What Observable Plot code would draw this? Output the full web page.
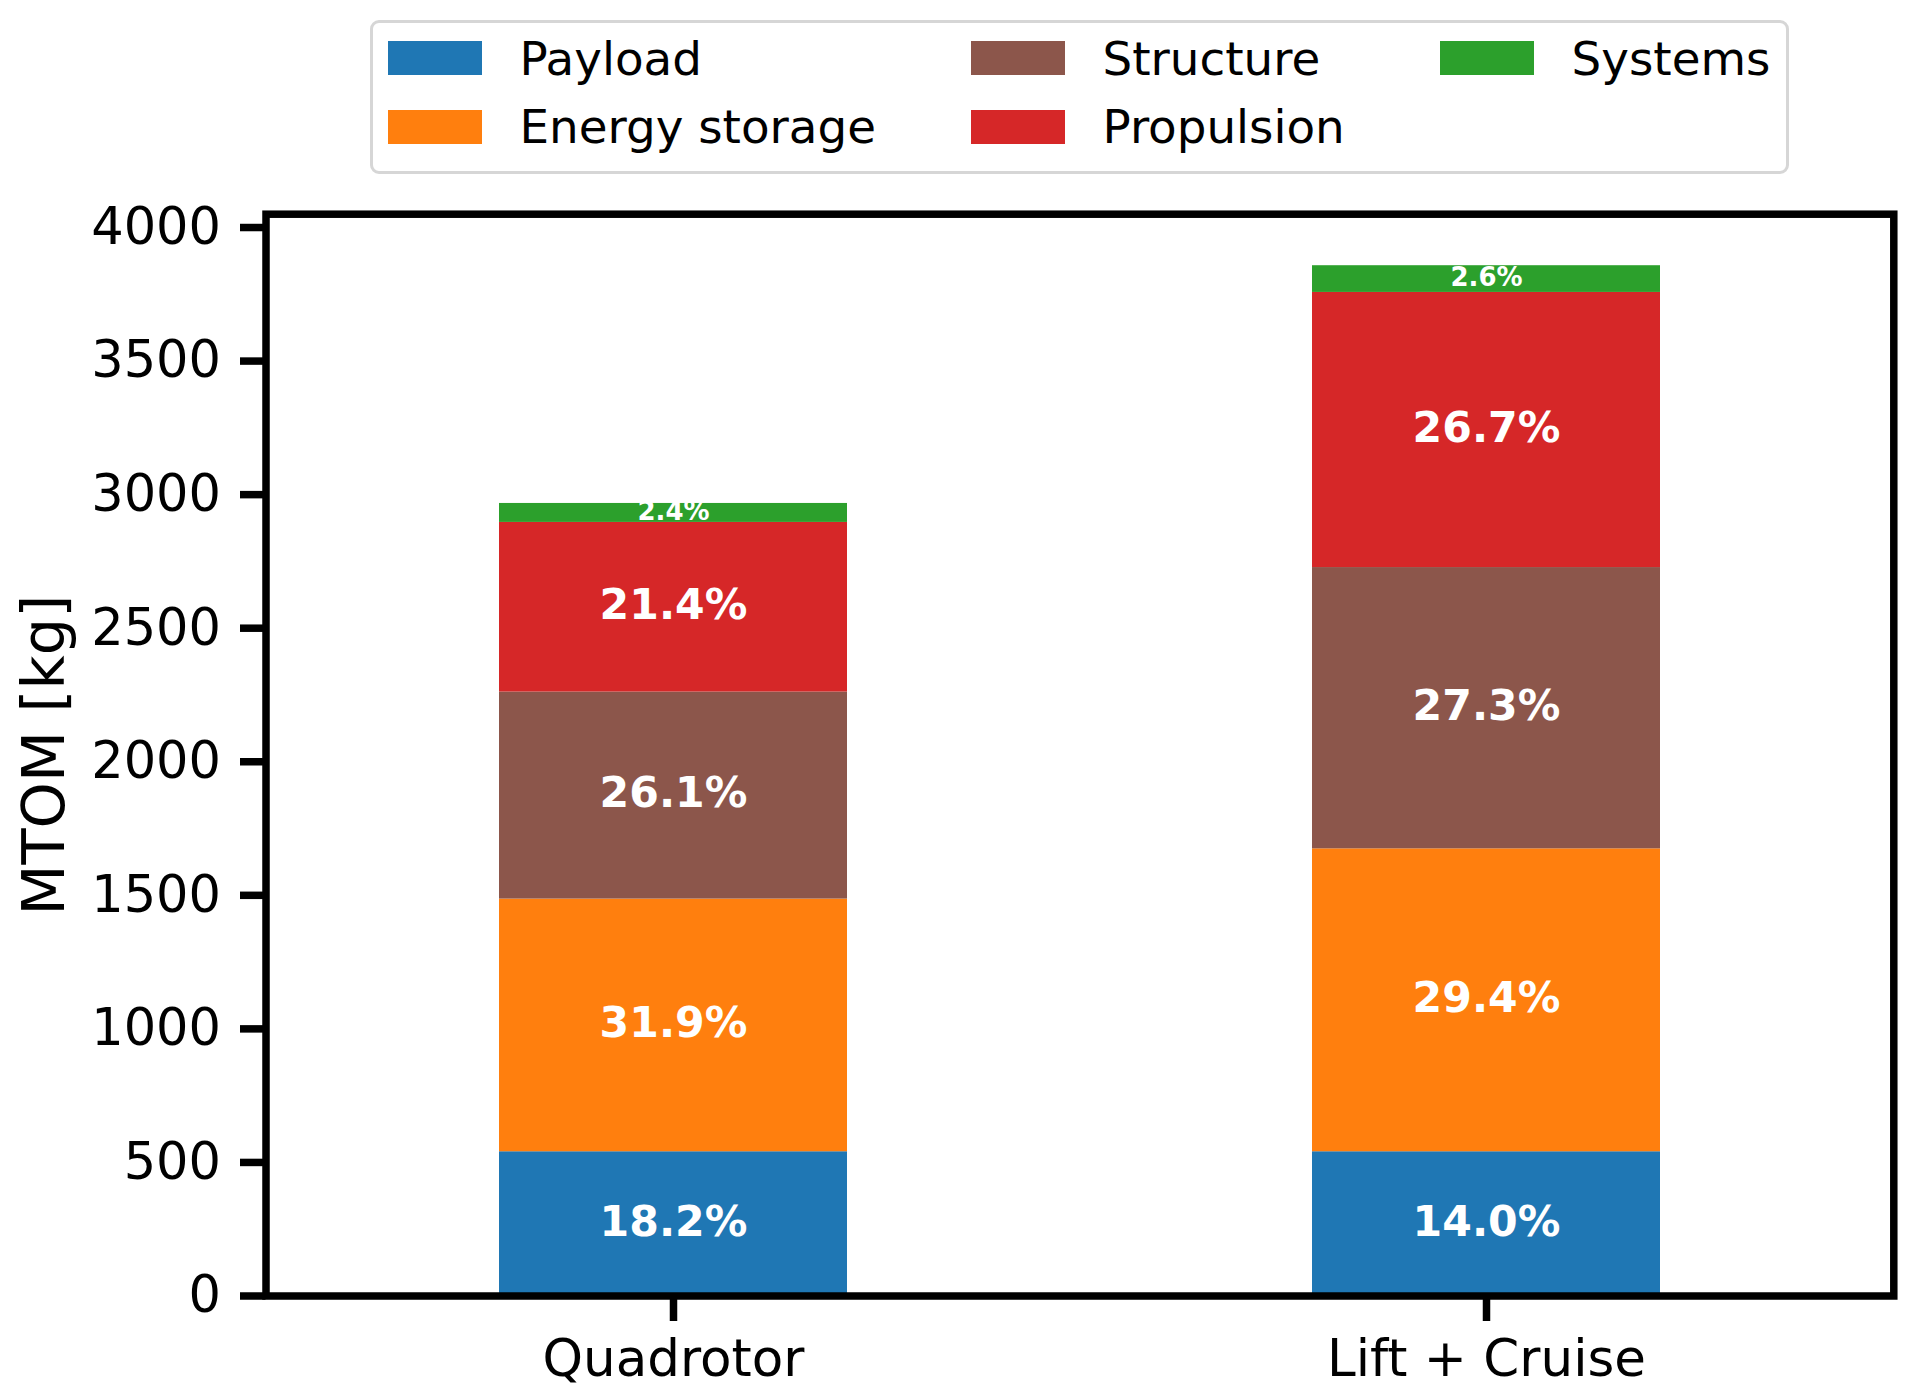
<!DOCTYPE html>
<html>
<head>
<meta charset="utf-8">
<script src="https://cdn.jsdelivr.net/npm/d3@7"></script>
<script src="https://cdn.jsdelivr.net/npm/@observablehq/plot@0.6"></script>
<style>
  html, body { margin: 0; padding: 0; background: #fff; }
  #wrap { position: relative; width: 1922px; height: 1396px; font-family: "DejaVu Sans", sans-serif; }
  #legend { position: absolute; left: 370px; top: 20px; width: 1419px; height: 154px; box-sizing: border-box;
            border: 3.5px solid #d6d6d6; border-radius: 9px; background: #fff; }
  .lg-patch { position: absolute; width: 94px; height: 34px; }
  .lg-text { position: absolute; font-size: 46.8px; line-height: 46.8px; color: #000; white-space: nowrap; }
</style>
</head>
<body>
<div id="wrap"><div id="chart"></div><div id="legend"></div></div>
<script>
// ---- data ----
const configurations = ["Quadrotor", "Lift + Cruise"];
const components = ["Payload", "Energy storage", "Structure", "Propulsion", "Systems"];
const quadrotorMass = [540, 946, 775, 635, 71];      // kg
const liftCruiseMass = [540, 1134, 1053, 1030, 100]; // kg
const componentColors = ["#1f77b4", "#ff7f0e", "#8c564b", "#d62728", "#2ca02c"];
const yTicks = [0, 500, 1000, 1500, 2000, 2500, 3000, 3500, 4000];
const yLabel = "MTOM [kg]";

// ---- build stacked table ----
const massByConfig = [quadrotorMass, liftCruiseMass];
const rows = [];
configurations.forEach((cfg, ci) => {
  const masses = massByConfig[ci];
  const total = d3.sum(masses);
  let acc = 0;
  masses.forEach((m, k) => {
    rows.push({
      config: cfg,
      component: components[k],
      y1: acc,
      y2: acc + m,
      mid: acc + m / 2,
      pct: (m / total * 100).toFixed(1) + "%",
      small: components[k] === "Systems"
    });
    acc += m;
  });
});
const yMax = d3.max(massByConfig, d => d3.sum(d)) * 1.05;

const W = 1922, H = 1396;
const mL = 265.5, mR = 28.7, mT = 213.7, mB = 100.5;

const chart = Plot.plot({
  width: W,
  height: H,
  marginLeft: mL,
  marginRight: mR,
  marginTop: mT,
  marginBottom: mB,
  style: { fontFamily: "DejaVu Sans", fontSize: "51px", color: "#000", background: "#fff", overflow: "visible" },
  x: { domain: configurations, paddingInner: 0.5715, paddingOuter: 0.28575, axis: null },
  y: { domain: [0, yMax], axis: null },
  color: { domain: components, range: componentColors },
  marks: [
    Plot.barY(rows, { x: "config", y1: "y1", y2: "y2", fill: "component" }),
    Plot.text(rows.filter(d => !d.small), { x: "config", y: "mid", text: "pct", fill: "white", fontWeight: "bold", fontSize: 42.6, dy: -2 }),
    Plot.text(rows.filter(d => d.small), { x: "config", y: "mid", text: "pct", fill: "white", fontWeight: "bold", fontSize: 26, dy: -1 }),
    Plot.axisY({ ticks: yTicks, tickFormat: d => String(d), tickSize: 25.5, tickPadding: 19.5, strokeWidth: 7.5, fontSize: 51, label: null }),
    Plot.axisX({ tickSize: 25.5, tickPadding: 17.5, strokeWidth: 7.5, fontSize: 51.5, label: null }),
    Plot.frame({ stroke: "#000", strokeWidth: 7.5 }),
    Plot.text([yLabel], { frameAnchor: "left", textAnchor: "middle", rotate: -90, dx: -221, fontSize: 59, fill: "#000" })
  ]
});
document.getElementById("chart").appendChild(chart);

// ---- legend (matplotlib style, 3 columns filled column-wise) ----
const legend = document.getElementById("legend");
const legendLeft = 370, legendTop = 20, border = 3.5;
const colX = [388, 971, 1440];
const rowBaseline = [75.7, 144];
const lgFont = 46.8;
components.forEach((name, i) => {
  const col = Math.floor(i / 2), row = i % 2;
  const patch = document.createElement("div");
  patch.className = "lg-patch";
  patch.style.background = componentColors[i];
  patch.style.left = (colX[col] - legendLeft - border) + "px";
  patch.style.top = (rowBaseline[row] - 34 - legendTop - border) + "px";
  legend.appendChild(patch);
  const txt = document.createElement("div");
  txt.className = "lg-text";
  txt.textContent = name;
  txt.style.left = (colX[col] + 132 - legendLeft - border) + "px";
  txt.style.top = (rowBaseline[row] - 0.846 * lgFont - legendTop - border) + "px";
  legend.appendChild(txt);
});
</script>
</body>
</html>
